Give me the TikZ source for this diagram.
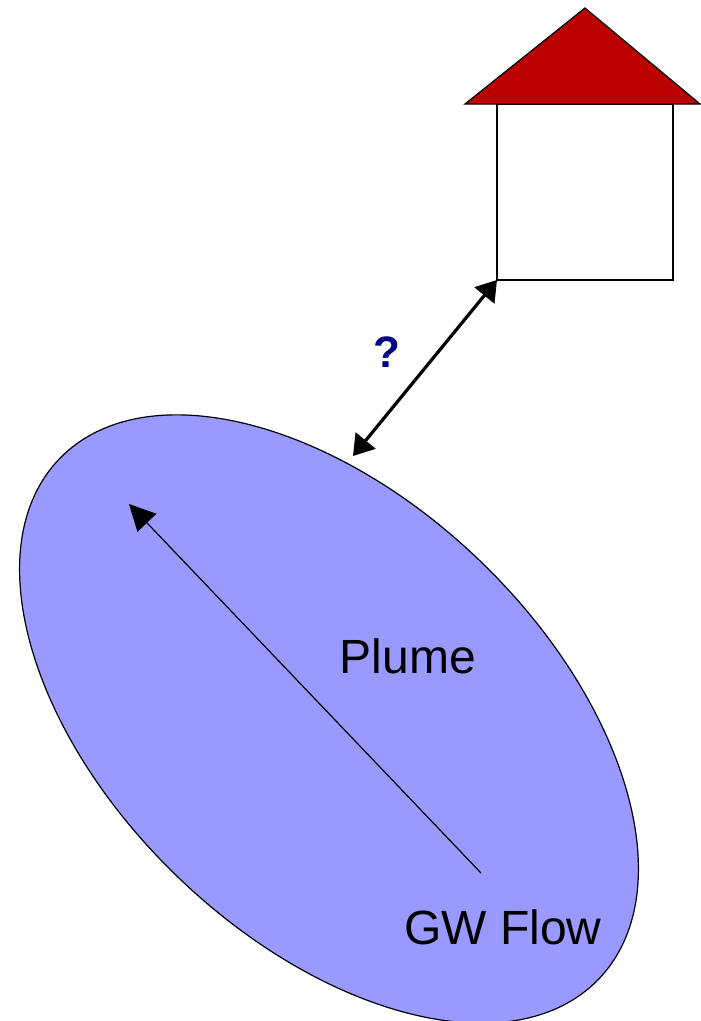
\documentclass[tikz,border=0pt]{standalone}
\usepackage{fontspec}
\setmainfont{Liberation Sans}
\usetikzlibrary{arrows.meta,shapes.geometric}
\definecolor{roofred}{RGB}{187,0,0}
\definecolor{plumeblue}{RGB}{153,153,255}
\definecolor{qnavy}{RGB}{0,0,128}
\tikzset{x=0.75pt,y=-0.75pt,
 outline/.style={draw=black,line width=0.9pt},
 lbl/.style={font=\fontsize{36}{40}\selectfont,text=black,inner sep=0pt}}
\begin{document}
\begin{tikzpicture}
\useasboundingbox (0,0) rectangle (700,1021);
\node[outline,fill=plumeblue,ellipse,minimum width=562pt,minimum height=328pt,inner sep=0pt,rotate=-44] (plume) at (329,719) {};
\node[outline,minimum width=132pt,minimum height=132pt,inner sep=0pt] (house) at (585,192) {};
\path[outline,fill=roofred] (465,104) -- (585,8) -- (700,104) -- cycle;
\coordinate (a1) at (497,280);
\coordinate (a2) at (353,456);
\draw[line width=2.4pt,{Triangle[length=15pt,width=19pt]}-{Triangle[length=15pt,width=19pt]}] (a2) -- (a1);
\coordinate (f1) at (481,873);
\coordinate (f2) at (129,504);
\draw[line width=0.9pt,-{Triangle[length=19.5pt,width=19.5pt]}] (f1) -- (f2);
\node[font=\bfseries\fontsize{33}{36}\selectfont,text=qnavy,inner sep=0pt] (q) at (387,352) {?};
\node[lbl] (pl) at (408,656) {Plume};
\node[lbl] (gw) at (503,927) {GW Flow};
\end{tikzpicture}
\end{document}
